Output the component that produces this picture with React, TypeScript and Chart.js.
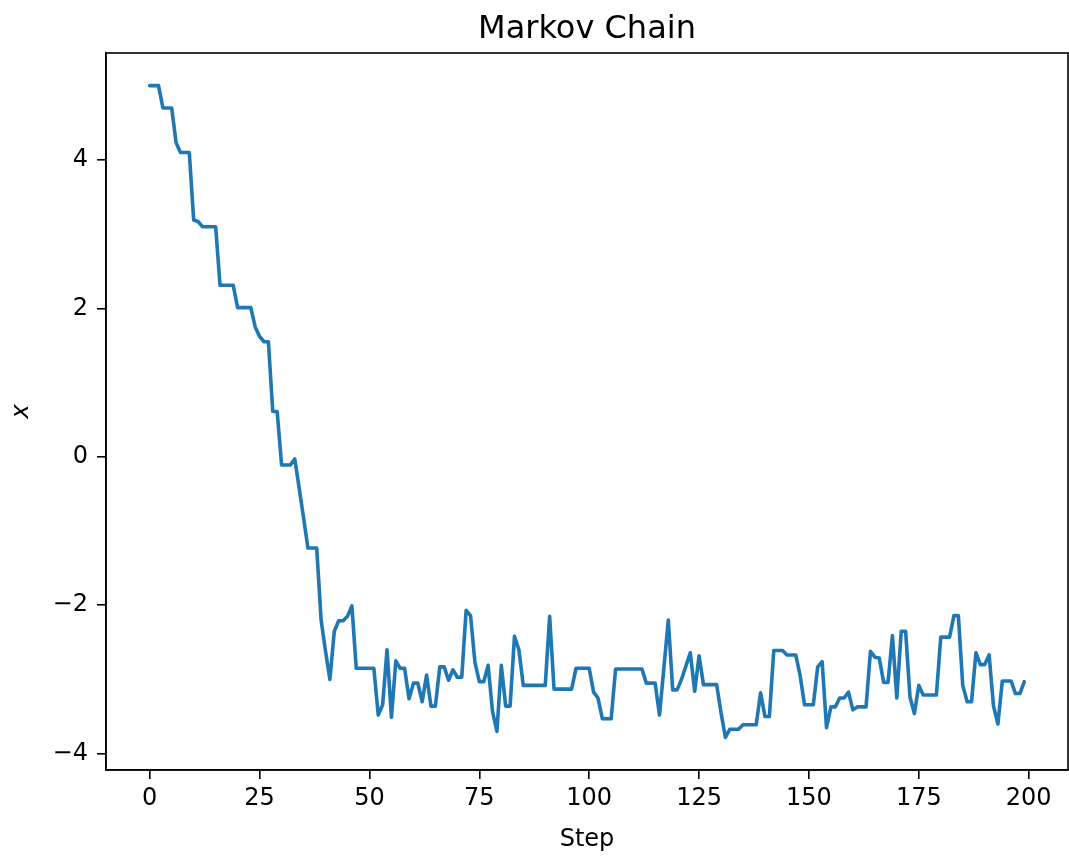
import React, { useEffect, useRef } from "react";
import { Chart, registerables } from "chart.js";

Chart.register(...registerables);

const chainValues: number[] = [
  5.0, 5.0, 5.0, 4.7, 4.7, 4.7, 4.23, 4.1, 4.1, 4.1,
  3.19, 3.17, 3.1, 3.1, 3.1, 3.1, 2.31, 2.31, 2.31, 2.31,
  2.01, 2.01, 2.01, 2.01, 1.75, 1.62, 1.55, 1.55, 0.61, 0.61,
  -0.11, -0.11, -0.11, -0.03, -0.42, -0.82, -1.23, -1.23, -1.23, -2.2,
  -2.62, -3.0, -2.35, -2.21, -2.21, -2.15, -2.01, -2.85, -2.85, -2.85,
  -2.85, -2.85, -3.48, -3.34, -2.6, -3.51, -2.75, -2.85, -2.85, -3.26,
  -3.05, -3.05, -3.3, -2.94, -3.36, -3.36, -2.83, -2.83, -3.01, -2.87,
  -2.97, -2.97, -2.07, -2.14, -2.77, -3.03, -3.03, -2.81, -3.43, -3.7,
  -2.81, -3.36, -3.36, -2.42, -2.6, -3.08, -3.08, -3.08, -3.08, -3.08,
  -3.08, -2.15, -3.13, -3.13, -3.13, -3.13, -3.13, -2.85, -2.85, -2.85,
  -2.85, -3.17, -3.25, -3.53, -3.53, -3.53, -2.86, -2.86, -2.86, -2.86,
  -2.86, -2.86, -2.86, -3.05, -3.05, -3.05, -3.48, -2.84, -2.2, -3.14,
  -3.14, -3.0, -2.82, -2.64, -3.16, -2.68, -3.07, -3.07, -3.07, -3.07,
  -3.45, -3.78, -3.67, -3.67, -3.67, -3.61, -3.61, -3.61, -3.61, -3.18,
  -3.5, -3.5, -2.61, -2.61, -2.61, -2.67, -2.67, -2.67, -2.95, -3.34,
  -3.34, -3.34, -2.83, -2.76, -3.65, -3.37, -3.37, -3.25, -3.25, -3.17,
  -3.41, -3.37, -3.37, -3.37, -2.62, -2.7, -2.71, -3.04, -3.04, -2.41,
  -3.25, -2.35, -2.35, -3.24, -3.46, -3.08, -3.21, -3.21, -3.21, -3.21,
  -2.43, -2.43, -2.43, -2.14, -2.14, -3.08, -3.3, -3.3, -2.64, -2.8,
  -2.8, -2.67, -3.36, -3.6, -3.02, -3.02, -3.02, -3.19, -3.19, -3.03,
];

const steps: number[] = chainValues.map((_, i) => i);
const xTicks: number[] = [0, 25, 50, 75, 100, 125, 150, 175, 200];
const yTicks: number[] = [-4, -2, 0, 2, 4];

const TITLE = "Markov Chain";
const X_LABEL = "Step";
const Y_LABEL = "x";

const FONT = "'DejaVu Sans', sans-serif";

const frame = {
  id: "frame",
  afterDatasetsDraw(chart: any) {
    const { ctx, chartArea } = chart;
    ctx.save();
    ctx.strokeStyle = "#000";
    ctx.lineWidth = 1.6;
    ctx.strokeRect(chartArea.left, chartArea.top, chartArea.right - chartArea.left, chartArea.bottom - chartArea.top);
    ctx.restore();
  },
};

export default function App() {
  const ref = useRef<HTMLCanvasElement | null>(null);

  useEffect(() => {
    const canvas = ref.current;
    if (!canvas) return;
    const chart = new Chart(canvas, {
      type: "line",
      data: {
        datasets: [
          {
            data: steps.map((s, i) => ({ x: s, y: chainValues[i] })),
            borderColor: "#1f77b4",
            borderWidth: 3.6,
            pointRadius: 0,
            tension: 0,
            fill: false,
            borderJoinStyle: "round",
            borderCapStyle: "round",
          },
        ],
      },
      plugins: [frame],
      options: {
        animation: false,
        responsive: false,
        maintainAspectRatio: false,
        layout: { padding: { left: 0, right: 1, top: 0, bottom: 0 } },
        plugins: {
          legend: { display: false },
          tooltip: { enabled: false },
          title: {
            display: true,
            text: TITLE,
            fullSize: false,
            color: "#000",
            font: { family: FONT, size: 32, weight: "normal" },
            padding: { top: 10.2, bottom: 4.4 },
          },
        },
        scales: {
          x: {
            type: "linear",
            min: -9.95,
            max: 208.95,
            afterFit: (scale: any) => {
              scale.height = 87;
            },
            afterBuildTicks: (scale: any) => {
              scale.ticks = xTicks.map((v) => ({ value: v }));
            },
            grid: {
              drawOnChartArea: false,
              drawTicks: true,
              tickLength: 9,
              color: "#000",
              tickColor: "#000",
              lineWidth: 1.6,
            },
            border: { display: true, color: "#000", width: 1.6 },
            ticks: {
              color: "#000",
              font: { family: FONT, size: 24 },
              padding: 5,
              maxRotation: 0,
              autoSkip: false,
              callback: (v: any) => String(v),
            },
            title: {
              display: true,
              text: X_LABEL,
              color: "#000",
              font: { family: FONT, size: 24 },
              padding: { top: 0, bottom: 3 },
            },
          },
          y: {
            type: "linear",
            min: -4.22,
            max: 5.44,
            afterFit: (scale: any) => {
              scale.width = 106;
            },
            afterBuildTicks: (scale: any) => {
              scale.ticks = yTicks.map((v) => ({ value: v }));
            },
            grid: {
              drawOnChartArea: false,
              drawTicks: true,
              tickLength: 9,
              color: "#000",
              tickColor: "#000",
              lineWidth: 1.6,
            },
            border: { display: true, color: "#000", width: 1.6 },
            ticks: {
              color: "#000",
              font: { family: FONT, size: 24 },
              padding: 9,
              autoSkip: false,
              callback: (v: any) => (v < 0 ? "\u2212" + Math.abs(v) : String(v)),
            },
            title: {
              display: true,
              text: Y_LABEL,
              color: "#000",
              font: { family: FONT, size: 24, style: "italic" },
              padding: { top: 7, bottom: 0 },
            },
          },
        },
      },
    } as any);
    return () => chart.destroy();
  }, []);

  return (
    <div style={{ position: "absolute", left: 0, top: 0, width: 1069, height: 857, background: "#fff" }}>
      <canvas ref={ref} width={1069} height={857} style={{ width: 1069, height: 857, display: "block" }} />
    </div>
  );
}
